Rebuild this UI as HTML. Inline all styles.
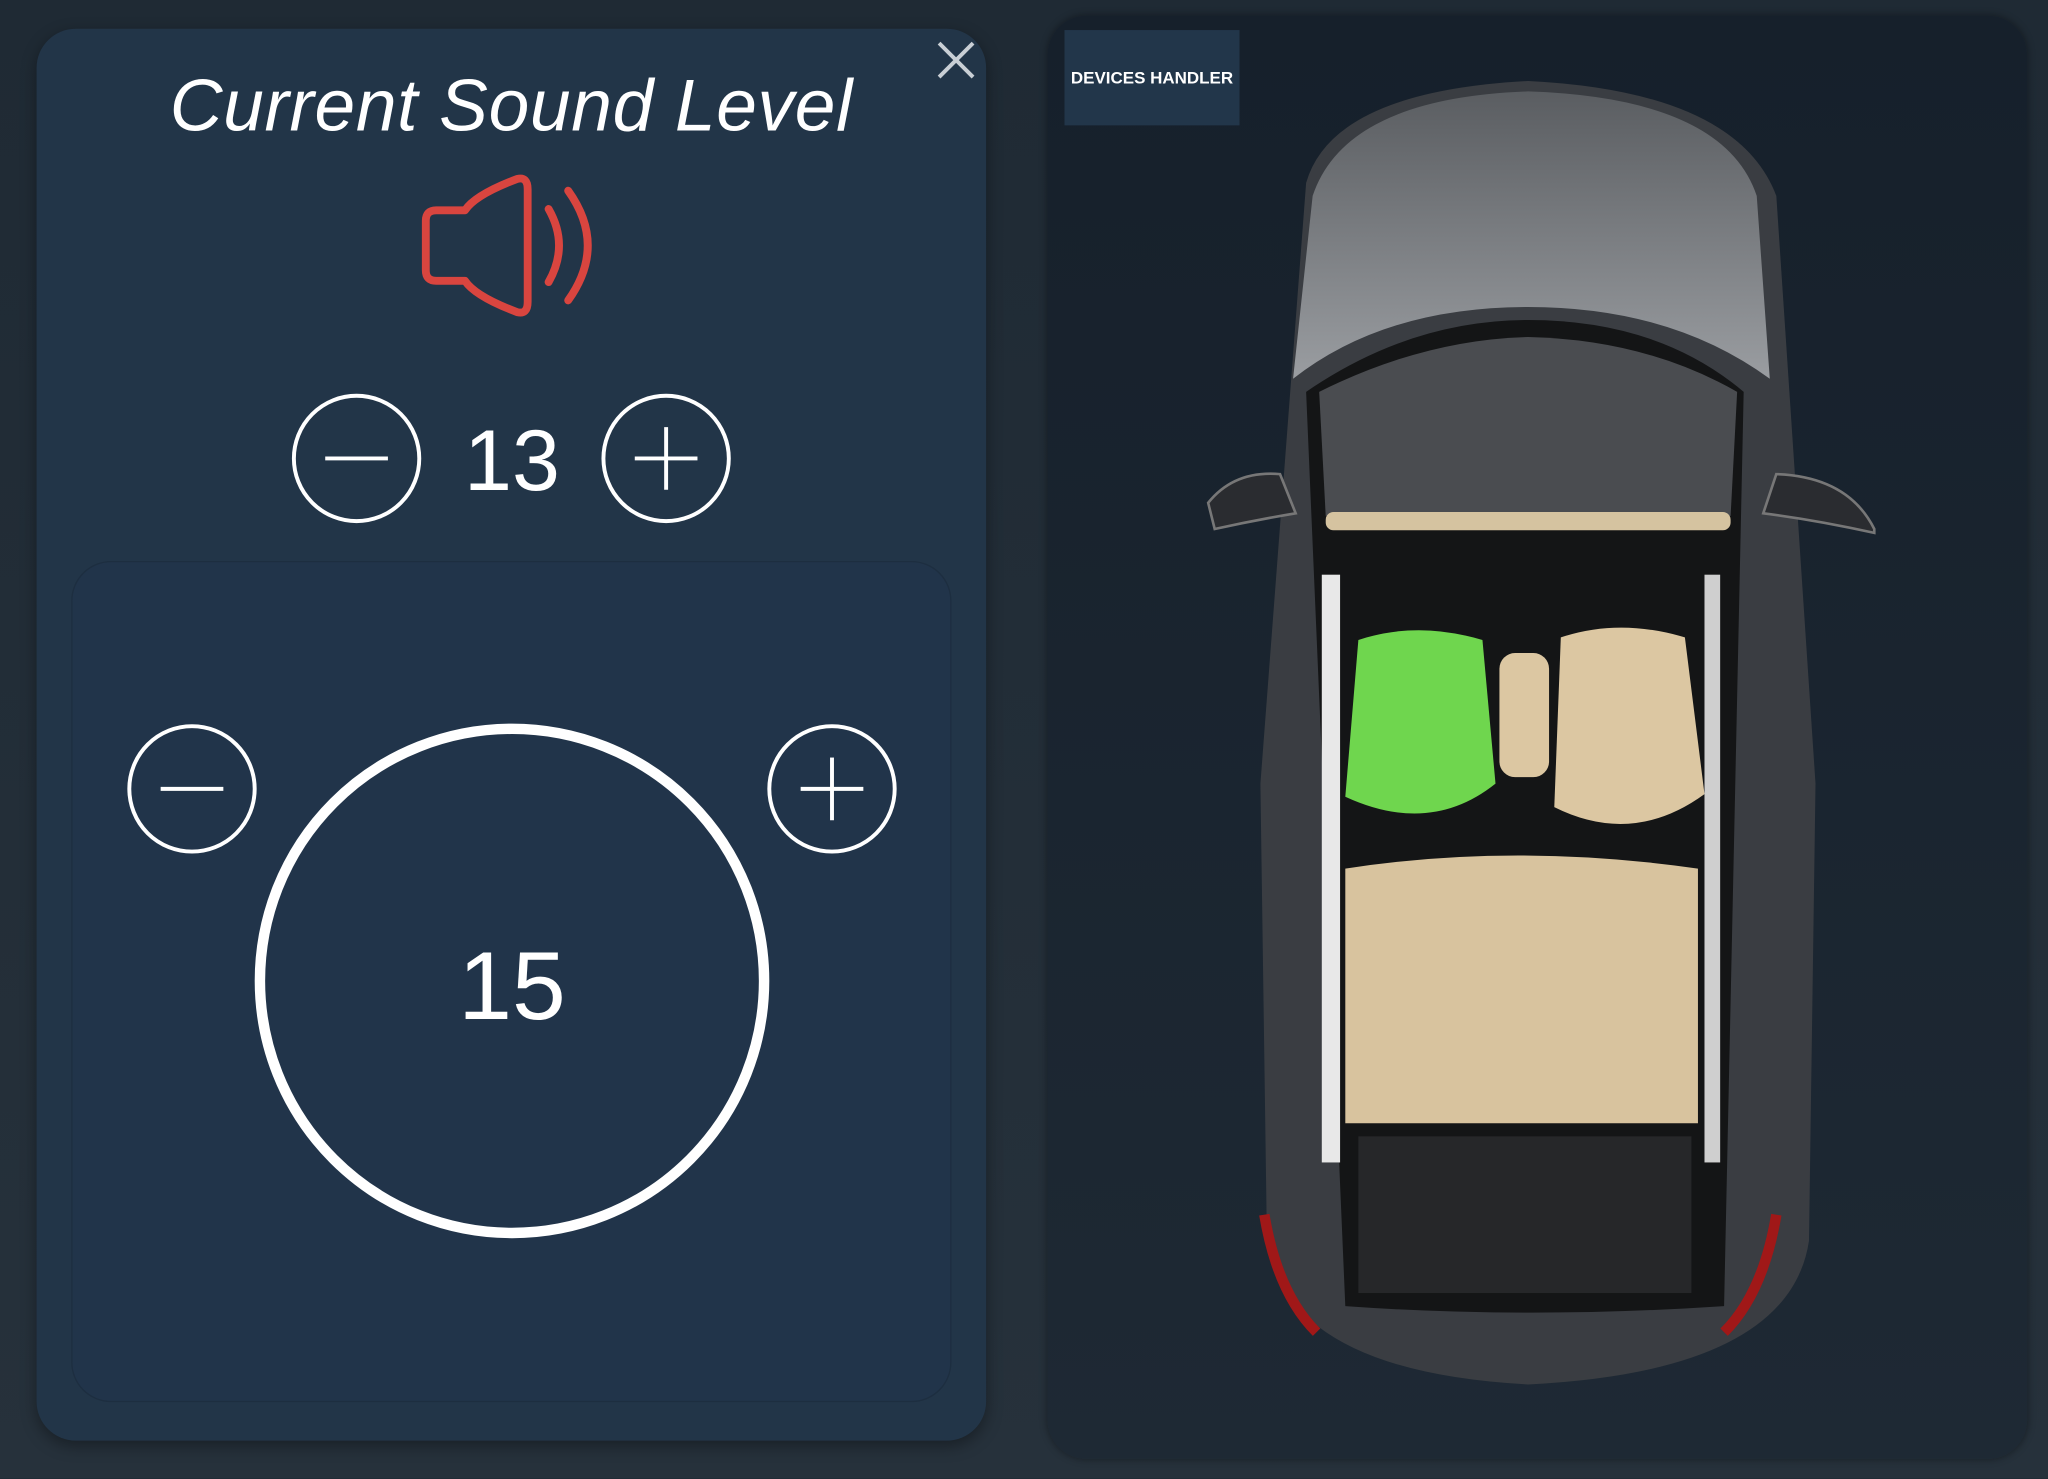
<!DOCTYPE html>
<html><head><meta charset="utf-8"><style>
html,body{margin:0;padding:0;width:2048px;height:1478px;overflow:hidden;background:#1c2630}
#s{position:absolute;left:0;top:0;width:1568px;height:1132px;transform:scale(1.30612);transform-origin:0 0;background:linear-gradient(180deg,#1f2a34,#26313b);font-family:"Liberation Sans",sans-serif;color:#fff}
.abs{position:absolute}
</style></head><body>
<div id="s">
 <div class="abs" style="left:28px;top:22px;width:727px;height:1081px;border-radius:30px;background:#223548;box-shadow:0 4px 12px rgba(0,0,0,.35)"></div>
 <div class="abs" style="left:28px;top:48px;width:727px;text-align:center;font-size:56px;font-style:italic;letter-spacing:0.5px">Current Sound Level</div>
 <svg class="abs" style="left:0;top:0" width="1568" height="1132">
  <defs><linearGradient id="roof" x1="0" y1="0" x2="0" y2="1"><stop offset="0" stop-color="#55585c"/><stop offset="1" stop-color="#8c8f93"/></linearGradient></defs>
  <g stroke="#c9cfd5" stroke-width="3"><line x1="719" y1="33" x2="745" y2="59"/><line x1="745" y1="33" x2="719" y2="59"/></g>
  <g fill="none" stroke="#d9453f" stroke-width="6" stroke-linejoin="round" stroke-linecap="round">
   <path d="M334 161 h22 q8 -12 40 -24 q8 -2 8 8 v86 q0 10 -8 8 q-32 -12 -40 -24 h-22 q-8 0 -8 -8 v-38 q0 -8 8 -8 z"/>
   <path d="M420 160 q16 28 0 56"/><path d="M435 146 q30 42 0 84"/>
  </g>
  <rect x="55" y="430" width="673" height="643" rx="30" fill="#21344a" stroke="#1d2e40"/>
  <g stroke="#fff" stroke-width="3" fill="none"><circle cx="273" cy="351" r="48"/><line x1="249" y1="351" x2="297" y2="351"/></g>
  <g stroke="#fff" stroke-width="3" fill="none"><circle cx="510" cy="351" r="48"/><line x1="486" y1="351" x2="534" y2="351"/><line x1="510" y1="327" x2="510" y2="375"/></g>
  <text x="392" y="375" text-anchor="middle" font-size="66" fill="#fff">13</text>
  <g stroke="#fff" stroke-width="3" fill="none"><circle cx="147" cy="604" r="48"/><line x1="123" y1="604" x2="171" y2="604"/></g>
  <g stroke="#fff" stroke-width="3" fill="none"><circle cx="637" cy="604" r="48"/><line x1="613" y1="604" x2="661" y2="604"/><line x1="637" y1="580" x2="637" y2="628"/></g>
  <circle cx="392" cy="751" r="193" fill="none" stroke="#fff" stroke-width="8"/>
  <text x="392" y="780" text-anchor="middle" font-size="74" fill="#fff">15</text>
 </svg>
 <div class="abs" style="left:802px;top:12px;width:750px;height:1105px;border-radius:30px;background:linear-gradient(180deg,#16202b,#1e2934);box-shadow:0 0 6px rgba(0,0,0,.4)"></div>
 <div class="abs" style="left:815px;top:23px;width:134px;height:73px;background:#22364a;font-size:13px;font-weight:bold;line-height:73px;text-align:center">DEVICES HANDLER</div>
 <svg class="abs" style="left:0;top:0" width="1568" height="1132">
  <defs><linearGradient id="rf" x1="0" y1="0" x2="0" y2="1"><stop offset="0" stop-color="#5a5d61"/><stop offset="1" stop-color="#9a9da1"/></linearGradient></defs>
  <path d="M1000 140 Q1020 70 1170 62 Q1330 70 1360 150 L1390 600 L1385 950 Q1370 1050 1170 1060 Q985 1050 970 950 L965 600 Z" fill="#3a3d42"/>
  <path d="M925 385 q20 -25 55 -22 l12 30 q-30 5 -62 12 z M1435 405 q-20 -40 -75 -42 l-10 30 q40 5 85 15 z" fill="#2a2c30" stroke="#777" stroke-width="2"/>
  <path d="M1005 150 Q1030 75 1170 70 Q1320 75 1345 150 L1355 290 Q1280 235 1170 235 Q1060 235 990 290 Z" fill="url(#rf)"/>
  <path d="M1000 300 Q1080 245 1170 245 Q1270 245 1335 300 L1320 1000 Q1170 1010 1030 1000 Z" fill="#141516"/>
  <path d="M1010 300 Q1090 260 1170 258 Q1260 260 1330 300 L1325 395 L1015 395 Z" fill="#4a4c50"/>
  <rect x="1015" y="392" width="310" height="14" rx="6" fill="#d5c3a0"/>
  <rect x="1012" y="440" width="14" height="450" fill="#e8e8e8"/>
  <rect x="1305" y="440" width="12" height="450" fill="#cfcfcf"/>
  <path d="M1040 490 q45 -15 95 0 l10 110 q-50 40 -115 10 z" fill="#6fd64e"/>
  <path d="M1195 488 q45 -15 95 0 l15 120 q-55 40 -115 10 z" fill="#dcc7a2"/>
  <rect x="1148" y="500" width="38" height="95" rx="12" fill="#dcc7a2"/>
  <path d="M1030 665 q130 -20 270 0 l0 195 l-270 0 z" fill="#d8c39e"/>
  <rect x="1040" y="870" width="255" height="120" fill="#262729"/>
  <path d="M968 930 q10 60 40 90 M1360 930 q-10 60 -40 90" stroke="#a01818" stroke-width="8" fill="none"/>
 </svg>
</div>
</body></html>
